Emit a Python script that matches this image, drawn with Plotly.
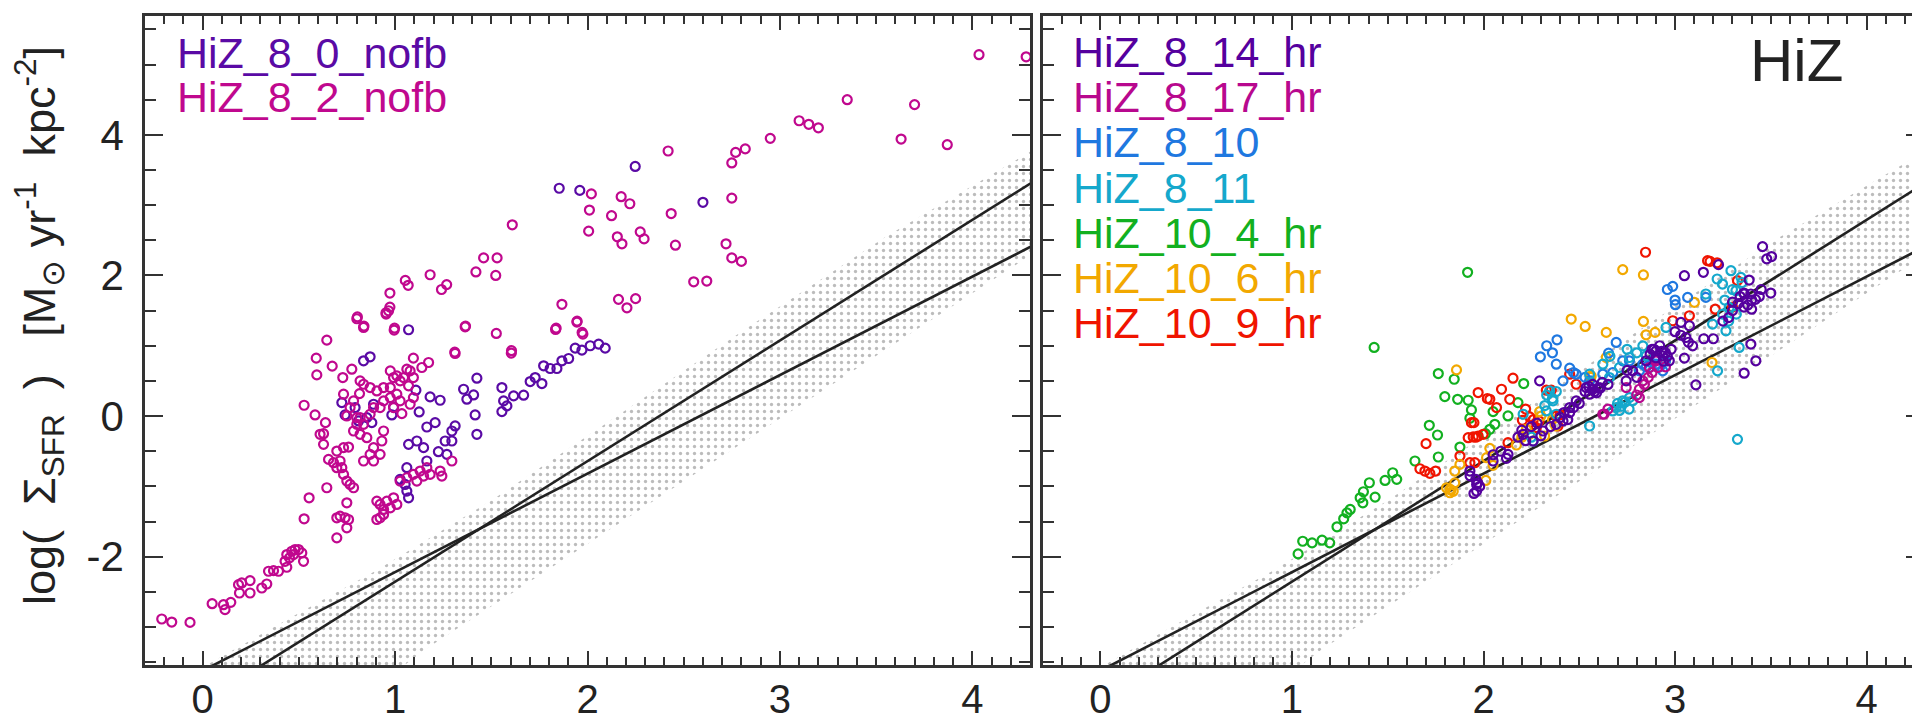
import plotly.graph_objects as go

W, H = 1920, 720
X_RANGE = [-0.3, 4.3]
Y_RANGE = [-3.54, 5.69]

# ---- reference relations (identical in both panels) ----
REL_X = [-0.5, 4.6]
KS_SLOPE, KS_ICPT = 1.401, -3.62
L2_SLOPE, L2_ICPT = 1.715, -4.07

BAND_X = [-0.05, 0.5, 0.9, 1.5, 2.1, 2.8, 3.55, 4.45, 4.45, 3.0, 2.05, 1.15, 0.95]
BAND_Y = [-3.65, -2.8, -2.2, -1.2, -0.1, 1.2, 2.55, 4.0, 2.55, -0.04, -1.73, -3.33, -3.75]

# ---- left panel ----
L_PURPLE_X = [0.836, 0.870, 0.723, 0.740, 0.792, 0.810, 0.853, 0.879, 0.888, 0.983, 0.992, 1.070, 1.108, 1.125,
              1.165, 1.182, 1.234, 1.208, 1.312, 1.295, 1.260, 1.295, 1.425, 1.356, 1.373, 1.408, 1.416, 1.425,
              1.555, 1.564, 1.555, 1.581, 1.616, 1.668, 1.702, 1.728, 1.763, 1.772, 1.806, 1.841, 1.867, 1.902,
              1.936, 1.971, 2.014, 2.058, 2.092, 1.070, 1.113, 1.148, 1.225, 1.269, 1.165, 1.061, 1.026, 1.052,
              1.061, 1.070, 1.853, 1.960, 2.248, 2.600]
L_PURPLE_Y = [0.786, 0.843, 0.192, 0.016, 0.121, -0.069, -0.022, -0.093, 0.168, 0.016, 0.130, 1.228, 0.368, 0.059,
              -0.155, 0.273, 0.225, -0.093, -0.140, -0.212, -0.354, -0.354, 0.539, 0.382, 0.240, 0.301, 0.016, -0.259,
              0.406, 0.216, 0.064, 0.145, 0.287, 0.297, 0.491, 0.548, 0.463, 0.715, 0.677, 0.677, 0.786, 0.819,
              0.966, 0.938, 1.000, 1.023, 0.966, -0.402, -0.354, -0.449, -0.506, -0.544, -0.639, -0.734, -0.900, -0.972,
              -1.067, -1.162, 3.240, 3.210, 3.550, 3.040]

L_MAGENTA_X = [-0.213, -0.161, -0.066, 0.049, 0.108, 0.116, 0.146, 0.191, 0.186, 0.203, 0.246, 0.246, 0.307, 0.333,
               0.342, 0.368, 0.394, 0.437, 0.428, 0.437, 0.463, 0.480, 0.498, 0.515, 0.524, 0.472, 0.451, 0.527,
               0.553, 0.645, 0.638, 0.584, 0.527, 0.590, 0.593, 0.645, 0.673, 0.728, 0.775, 0.732, 0.815, 0.801,
               0.836, 0.953, 0.966, 0.995, 1.095, 1.139, 1.174, 1.312, 1.364, 1.526, 1.604, 1.834, 1.945, 1.976,
               0.610, 0.628, 0.628, 0.697, 0.654, 0.680, 0.714, 0.697, 0.723, 0.732, 0.749, 0.766, 0.784, 0.732,
               0.758, 0.836, 0.870, 0.888, 0.922, 0.931, 0.940, 0.888, 0.853, 0.818, 0.784, 0.801, 0.818, 0.836,
               0.870, 0.888, 0.922, 0.940, 0.975, 1.009, 1.026, 0.992, 0.975, 0.940, 0.905, 0.870, 0.836, 0.818,
               0.784, 0.766, 0.749, 0.801,
               0.697, 0.714, 0.740, 0.758, 0.749, 0.697, 0.749, 0.905, 0.922, 0.940, 0.957, 0.992, 0.922, 0.905,
               0.940, 0.975, 1.009, 1.026, 1.061, 1.095, 1.130, 1.165, 1.148, 1.113, 1.182, 1.234, 1.243, 1.295,
               0.975, 0.992, 1.009, 1.026, 1.044, 1.061, 1.078, 1.070, 1.095, 1.035, 1.078, 1.095,
               2.020, 2.010, 2.125, 2.175, 2.220, 2.006, 2.155, 2.179, 2.274, 2.294, 2.419, 2.435, 2.457, 2.552,
               1.609, 1.460, 1.530, 1.420, 1.523, 1.182, 1.053, 1.068, 1.241, 1.268, 0.973, 0.973, 0.953, 0.997,
               0.804, 0.838, 1.366, 1.837, 2.161, 2.205, 2.250, 1.867, 1.946, 1.972, 1.605, 1.310,
               2.620, 2.750, 2.720, 2.800, 2.750, 2.750, 2.770, 2.820, 2.950, 3.150, 3.100, 3.200, 3.350,
               3.630, 3.700, 3.870, 4.035, 4.280]
L_MAGENTA_Y = [-2.886, -2.929, -2.934, -2.668, -2.682, -2.753, -2.649, -2.516, -2.397, -2.373, -2.340, -2.516, -2.445, -2.388,
               -2.207, -2.198, -2.207, -2.150, -2.065, -1.969, -1.922, -1.898, -1.898, -1.946, -2.065, -1.969, -2.017, -1.461,
               -1.162, -1.019, -0.093, 0.016, 0.154, 0.824, 0.586, 1.080, 0.710, 0.548, 0.667, 0.311, 0.320, 1.384,
               1.261, 1.451, 1.498, 1.223, 0.824, 0.691, 0.762, 0.890, 1.270, 1.175, 0.895, 1.232, 1.337, 1.166,
               -0.259, -0.250, -0.402, -0.497, -0.616, -0.663, -0.639, -0.734, -0.734, -0.829, -0.924, -0.972, -1.019, -0.449,
               -0.440, -0.639, -0.544, -0.639, -0.544, -0.354, -0.212, -0.449, -0.307, -0.259, -0.212, -0.117, -0.022, -0.117,
               0.026, 0.121, 0.121, 0.216, 0.263, 0.311, 0.216, 0.121, 0.406, 0.406, 0.358, 0.406, 0.453, 0.501,
               0.216, 0.121, 0.002, -0.022,
               -1.447, -1.423, -1.447, -1.471, -1.589, -1.732, -1.233, -1.209, -1.257, -1.328, -1.209, -1.162, -1.447, -1.471,
               -1.399, -1.304, -1.257, -0.924, -0.877, -0.829, -0.782, -0.734, -0.853, -0.924, -0.829, -0.782, -0.853, -0.639,
               0.643, 0.548, 0.572, 0.501, 0.548, 0.667, 0.643, 0.430, 0.548, 0.035, 0.168, 0.263,
               3.160, 2.930, 2.850, 3.120, 3.020, 2.630, 2.550, 2.450, 2.620, 2.520, 3.770, 2.880, 2.430, 1.910,
               2.720, 2.250, 2.250, 2.050, 2.000, 2.010, 1.930, 1.860, 1.800, 1.870, 1.750, 1.550, 1.470, 1.250,
               1.410, 1.280, 1.280, 1.250, 1.660, 1.540, 1.670, 1.590, 1.350, 1.190, 0.930, 0.910,
               1.920, 2.250, 2.450, 2.200, 3.100, 3.600, 3.750, 3.800, 3.950, 4.150, 4.200, 4.100, 4.500,
               3.940, 4.430, 3.860, 5.140, 5.110]

# ---- right panel ----
R_PURPLE_X = [3.049, 3.148, 3.227, 3.387, 3.361, 3.396, 3.031, 3.075, 3.057, 3.092, 3.049, 3.109, 3.361, 3.396,
              3.422, 2.901, 2.936, 2.970, 2.849, 2.779, 2.745, 2.536, 2.554, 2.484, 2.450, 2.415, 2.380, 2.311,
              2.259, 2.207, 2.050, 1.964, 1.964, 1.929, 2.128, 2.293, 3.457, 3.479, 3.504,
              2.880, 2.920, 2.950, 2.980, 2.600, 2.620, 2.580, 2.650, 3.300, 3.330, 3.360, 3.400, 3.280, 3.250,
              3.200, 3.150, 2.400, 2.450, 2.350, 2.300, 2.220, 1.960, 1.980, 2.050, 2.750, 2.800, 3.450, 3.440, 3.500,
              2.550, 2.570, 2.590, 2.610, 2.570, 2.530, 2.870, 2.900, 2.930, 2.960, 2.890, 2.940, 3.000, 3.030, 3.070,
              3.300, 3.340, 3.380, 3.420, 3.360, 3.400, 2.420, 2.470, 2.500, 2.440, 2.200, 2.250, 2.280, 2.180,
              1.930, 1.950, 1.970, 2.090, 2.120]
R_PURPLE_Y = [1.997, 2.045, 2.154, 1.935, 1.736, 1.736, 1.332, 1.285, 1.118, 0.999, 0.824, 0.444, 0.610, 1.023,
              0.786, 0.928, 0.857, 0.786, 0.786, 0.643, 0.501, 0.406, 0.311, 0.216, 0.121, -0.069, -0.117, -0.212,
              -0.355, -0.259, -0.639, -0.972, -1.067, -0.782, -0.544, 0.501, 2.410, 2.236, 2.269,
              0.950, 1.000, 0.900, 0.950, 0.400, 0.480, 0.350, 0.450, 1.500, 1.600, 1.550, 1.650, 1.400, 1.350,
              1.100, 1.100, -0.020, 0.050, -0.150, -0.280, -0.350, -0.900, -1.000, -0.550, 0.650, 0.550, 1.800, 1.700, 1.750,
              0.420, 0.380, 0.330, 0.400, 0.450, 0.350, 0.880, 0.830, 0.920, 0.850, 0.950, 0.780, 1.200, 1.150, 1.050,
              1.620, 1.700, 1.580, 1.660, 1.750, 1.520, 0.050, 0.120, 0.180, -0.050, -0.200, -0.150, -0.100, -0.300,
              -0.850, -1.100, -0.950, -0.500, -0.600]

R_MAGENTA_X = [2.901, 2.866, 2.832, 2.814, 2.745, 2.814, 2.623, 2.910, 2.860, 2.840, 2.880, 2.800, 2.630, 2.650,
               2.900, 2.950]
R_MAGENTA_Y = [0.786, 0.691, 0.501, 0.382, 0.406, 0.263, 0.026, 0.691, 0.550, 0.450, 0.620, 0.300, 0.030, 0.100,
               0.800, 0.700]

R_BLUE_X = [2.988, 3.002, 3.066, 3.161, 2.384, 2.297, 2.380, 2.450, 2.415, 2.484, 2.693, 2.653, 2.727, 2.623,
            2.554, 2.675, 2.762, 2.832, 2.866, 2.901, 2.936, 2.814, 2.960, 3.000, 2.330, 2.360, 2.470, 2.530,
            2.850, 2.880, 2.920, 2.950]
R_BLUE_Y = [1.845, 1.584, 1.688, 1.688, 1.085, 0.843, 0.738, 0.681, 0.501, 0.596, 1.047, 0.895, 0.786, 0.596,
            0.501, 0.620, 0.786, 0.738, 0.691, 0.738, 0.643, 0.643, 1.800, 1.650, 1.000, 0.900, 0.620, 0.550,
            0.700, 0.750, 0.700, 0.780]

R_CYAN_X = [3.292, 3.344, 3.248, 3.318, 3.161, 3.283, 3.248, 3.196, 3.266, 3.335, 3.222, 3.326, 2.953, 2.832,
            2.762, 2.710, 2.658, 2.623, 2.554, 2.345, 2.363, 2.328, 2.380, 2.259, 2.207, 2.727, 2.693, 2.675,
            2.762, 2.554, 2.700, 2.720, 2.740, 2.760, 2.780, 2.710, 2.330, 2.360, 2.380, 2.320, 3.260, 3.300,
            3.350, 3.280, 3.320, 3.220, 2.660, 2.750, 2.800, 2.850, 2.250]
R_CYAN_Y = [2.068, 1.973, 1.878, 1.783, 1.736, 1.546, 1.451, 1.308, 1.213, 0.976, 0.643, -0.331, 1.261, 0.999,
            0.833, 0.691, 0.548, 0.738, 0.596, 0.358, 0.216, 0.073, 0.026, -0.355, 0.026, 0.216, 0.121, 0.073,
            0.263, -0.141, 0.180, 0.140, 0.200, 0.100, 0.220, 0.080, 0.300, 0.250, 0.350, 0.150, 1.650, 1.800,
            1.900, 1.350, 1.450, 1.950, 0.850, 0.950, 0.900, 0.860, -0.300]

R_GREEN_X = [1.917, 1.429, 1.764, 1.847, 1.798, 1.865, 1.920, 1.937, 1.929, 2.050, 2.059, 2.033, 2.010, 2.128,
             2.180, 2.210, 1.717, 1.760, 1.764, 1.877, 1.642, 1.526, 1.486, 1.547, 1.404, 1.373, 1.356, 1.434,
             1.370, 1.304, 1.287, 1.270, 1.235, 1.157, 1.105, 1.056, 1.197, 1.032]
R_GREEN_Y = [2.045, 0.976, 0.605, 0.524, 0.277, 0.239, 0.225, 0.087, -0.031, 0.064, -0.117, -0.188, -0.250, 0.002,
             0.192, 0.463, -0.131, -0.269, -0.582, -0.440, -0.639, -0.806, -0.915, -0.900, -0.948, -1.076, -1.162, -1.152,
             -1.233, -1.328, -1.376, -1.461, -1.575, -1.765, -1.803, -1.780, -1.803, -1.960]

R_ORANGE_X = [2.727, 2.835, 2.458, 2.531, 2.641, 2.835, 2.849, 2.896, 3.101, 3.193, 2.641, 2.562, 1.859, 2.293,
              2.377, 2.224, 2.241, 2.319, 2.172, 2.033, 2.016, 1.850, 1.877, 2.012, 1.807, 1.825, 1.842, 1.825,
              2.300, 2.360, 2.200, 2.560, 2.050, 1.850, 1.830]
R_ORANGE_Y = [2.083, 2.007, 1.380, 1.275, 1.190, 1.346, 1.156, 1.190, 1.617, 0.762, 0.833, 0.572, 0.657, 0.064,
              -0.140, -0.188, -0.259, -0.283, -0.411, -0.459, -0.592, -0.782, -0.687, -0.915, -1.020, -1.090, -1.070, -1.043,
              0.000, -0.050, -0.300, 0.550, -0.700, -0.950, -1.050]

R_RED_X = [2.846, 3.170, 3.183, 3.326, 3.210, 3.075, 2.988, 2.154, 2.094, 2.033, 2.137, 1.972, 2.068, 1.937,
           1.950, 1.920, 1.946, 1.972, 1.998, 2.128, 1.700, 1.668, 1.694, 1.720, 1.750, 1.877, 1.929, 1.955,
           2.203, 2.241, 2.290, 2.276, 2.380, 2.389, 2.328, 2.354, 2.450, 2.484, 2.220, 2.260, 2.400, 1.960,
           2.020, 3.220, 3.300]
R_RED_Y = [2.330, 2.210, 2.200, 1.926, 1.520, 1.427, 1.356, 0.539, 0.382, 0.239, 0.239, 0.335, 0.121, -0.093,
           -0.093, -0.307, -0.297, -0.283, -0.259, -0.378, -0.392, -0.749, -0.782, -0.815, -0.782, -0.568, -0.663, -0.663,
           -0.060, -0.012, -0.069, -0.164, 0.002, -0.140, 0.368, 0.368, 0.596, 0.453, 0.100, -0.050, 0.020, -0.300,
           0.250, 2.180, 1.550]

LEFT_SERIES = [("HiZ_8_0_nofb", "#5a0aa5", L_PURPLE_X, L_PURPLE_Y),
               ("HiZ_8_2_nofb", "#c0088e", L_MAGENTA_X, L_MAGENTA_Y)]
RIGHT_SERIES = [("HiZ_8_14_hr", "#55009e", R_PURPLE_X, R_PURPLE_Y),
                ("HiZ_8_17_hr", "#b8088e", R_MAGENTA_X, R_MAGENTA_Y),
                ("HiZ_8_10", "#1f78e0", R_BLUE_X, R_BLUE_Y),
                ("HiZ_8_11", "#15a8cc", R_CYAN_X, R_CYAN_Y),
                ("HiZ_10_4_hr", "#12b020", R_GREEN_X, R_GREEN_Y),
                ("HiZ_10_6_hr", "#f2a800", R_ORANGE_X, R_ORANGE_Y),
                ("HiZ_10_9_hr", "#f01400", R_RED_X, R_RED_Y)]
RIGHT_ORDER = ["HiZ_10_4_hr", "HiZ_10_9_hr", "HiZ_10_6_hr", "HiZ_8_10", "HiZ_8_11", "HiZ_8_17_hr", "HiZ_8_14_hr"]

X_TICKS = [0, 1, 2, 3, 4]
Y_TICKS = [-2, 0, 2, 4]
Y_TICKTEXT = ["-2", "0", "2", "4"]

fig = go.Figure()

KS_Y = [KS_ICPT + KS_SLOPE * v for v in REL_X]
L2_Y = [L2_ICPT + L2_SLOPE * v for v in REL_X]

for ax in ("", "2"):
    xa, ya = "x" + ax, "y" + ax
    fig.add_trace(go.Scatter(x=BAND_X, y=BAND_Y, mode="lines", fill="toself", line=dict(width=0),
                             fillcolor="rgba(255,255,255,0)",
                             fillpattern=dict(shape=".", fgcolor="#7a7a7a", bgcolor="rgba(255,255,255,0)",
                                              size=7, solidity=0.18),
                             xaxis=xa, yaxis=ya, hoverinfo="skip", showlegend=False))
    fig.add_trace(go.Scatter(x=REL_X, y=KS_Y, mode="lines", line=dict(color="#222222", width=2.6),
                             xaxis=xa, yaxis=ya, showlegend=False))
    fig.add_trace(go.Scatter(x=REL_X, y=L2_Y, mode="lines", line=dict(color="#222222", width=2.6),
                             xaxis=xa, yaxis=ya, showlegend=False))


def add_points(series, xa, ya, order=None):
    lookup = {s[0]: s for s in series}
    names = order if order else [s[0] for s in series]
    for n in names:
        name, col, xs, ys = lookup[n]
        fig.add_trace(go.Scatter(x=xs, y=ys, mode="markers", name=name,
                                 marker=dict(symbol="circle-open", size=9, color=col, line=dict(width=2.2, color=col)),
                                 xaxis=xa, yaxis=ya, showlegend=False, cliponaxis=True))


add_points(LEFT_SERIES, "x", "y")
add_points(RIGHT_SERIES, "x2", "y2", RIGHT_ORDER)

FRAME = "#333333"
FONT = "Liberation Sans, Arial, Helvetica, sans-serif"
TICKFONT = dict(family=FONT, size=40, color="#222222")


def xaxis(dom, anchor):
    return dict(domain=dom, range=X_RANGE, tickvals=X_TICKS, ticks="inside", ticklen=14, tickwidth=2,
                tickcolor=FRAME, showline=True, linewidth=2.5, linecolor=FRAME, mirror="ticks", anchor=anchor,
                showgrid=False, zeroline=False, tickfont=TICKFONT, ticklabelstandoff=-3,
                minor=dict(dtick=0.1, ticks="inside", ticklen=8, tickwidth=1.6, tickcolor=FRAME, showgrid=False))


def yaxis(show, anchor):
    return dict(domain=[1 - 657 / H, 1 - 8 / H], range=Y_RANGE, tickvals=Y_TICKS, ticktext=Y_TICKTEXT,
                ticks="inside", ticklen=18, tickwidth=2, tickcolor=FRAME, showline=True, linewidth=2.5,
                linecolor=FRAME, mirror="ticks", showgrid=False, zeroline=False, tickfont=dict(TICKFONT, size=42),
                showticklabels=show, ticklabelstandoff=10, anchor=anchor,
                minor=dict(dtick=0.5, ticks="inside", ticklen=11, tickwidth=1.6, tickcolor=FRAME, showgrid=False))


fig.update_layout(
    width=W, height=H, margin=dict(l=0, r=0, t=0, b=0),
    paper_bgcolor="white", plot_bgcolor="white", showlegend=False,
    xaxis=xaxis([137 / W, 1022 / W], "y"), yaxis=yaxis(True, "x"),
    xaxis2=xaxis([1035 / W, 1916 / W], "y2"), yaxis2=yaxis(False, "x2"),
)

annots = []
for i, (name, col, _, _) in enumerate(LEFT_SERIES):
    annots.append(dict(x=167 / W, y=1 - (45 + 44 * i) / H, xref="paper", yref="paper", xanchor="left",
                       yanchor="middle", text=name, showarrow=False, font=dict(family=FONT, size=43, color=col)))
for i, (name, col, _, _) in enumerate(RIGHT_SERIES):
    annots.append(dict(x=1063 / W, y=1 - (44 + 45.2 * i) / H, xref="paper", yref="paper", xanchor="left",
                       yanchor="middle", text=name, showarrow=False, font=dict(family=FONT, size=43, color=col)))
annots.append(dict(x=1788 / W, y=1 - 53 / H, xref="paper", yref="paper", xanchor="center", yanchor="middle",
                   text="HiZ", showarrow=False, font=dict(family=FONT, size=60, color="#222222")))
annots.append(dict(x=31 / W, y=1 - 318 / H, xref="paper", yref="paper", xanchor="center", yanchor="middle",
                   textangle=-90, showarrow=False,
                   text="log(  Σ<sub>SFR</sub>  )   [M<sub>⊙</sub> yr<sup>-1</sup>  kpc<sup>-2</sup>]",
                   font=dict(family=FONT, size=45, color="#222222")))
fig.update_layout(annotations=annots)

fig.write_html("out.html")
